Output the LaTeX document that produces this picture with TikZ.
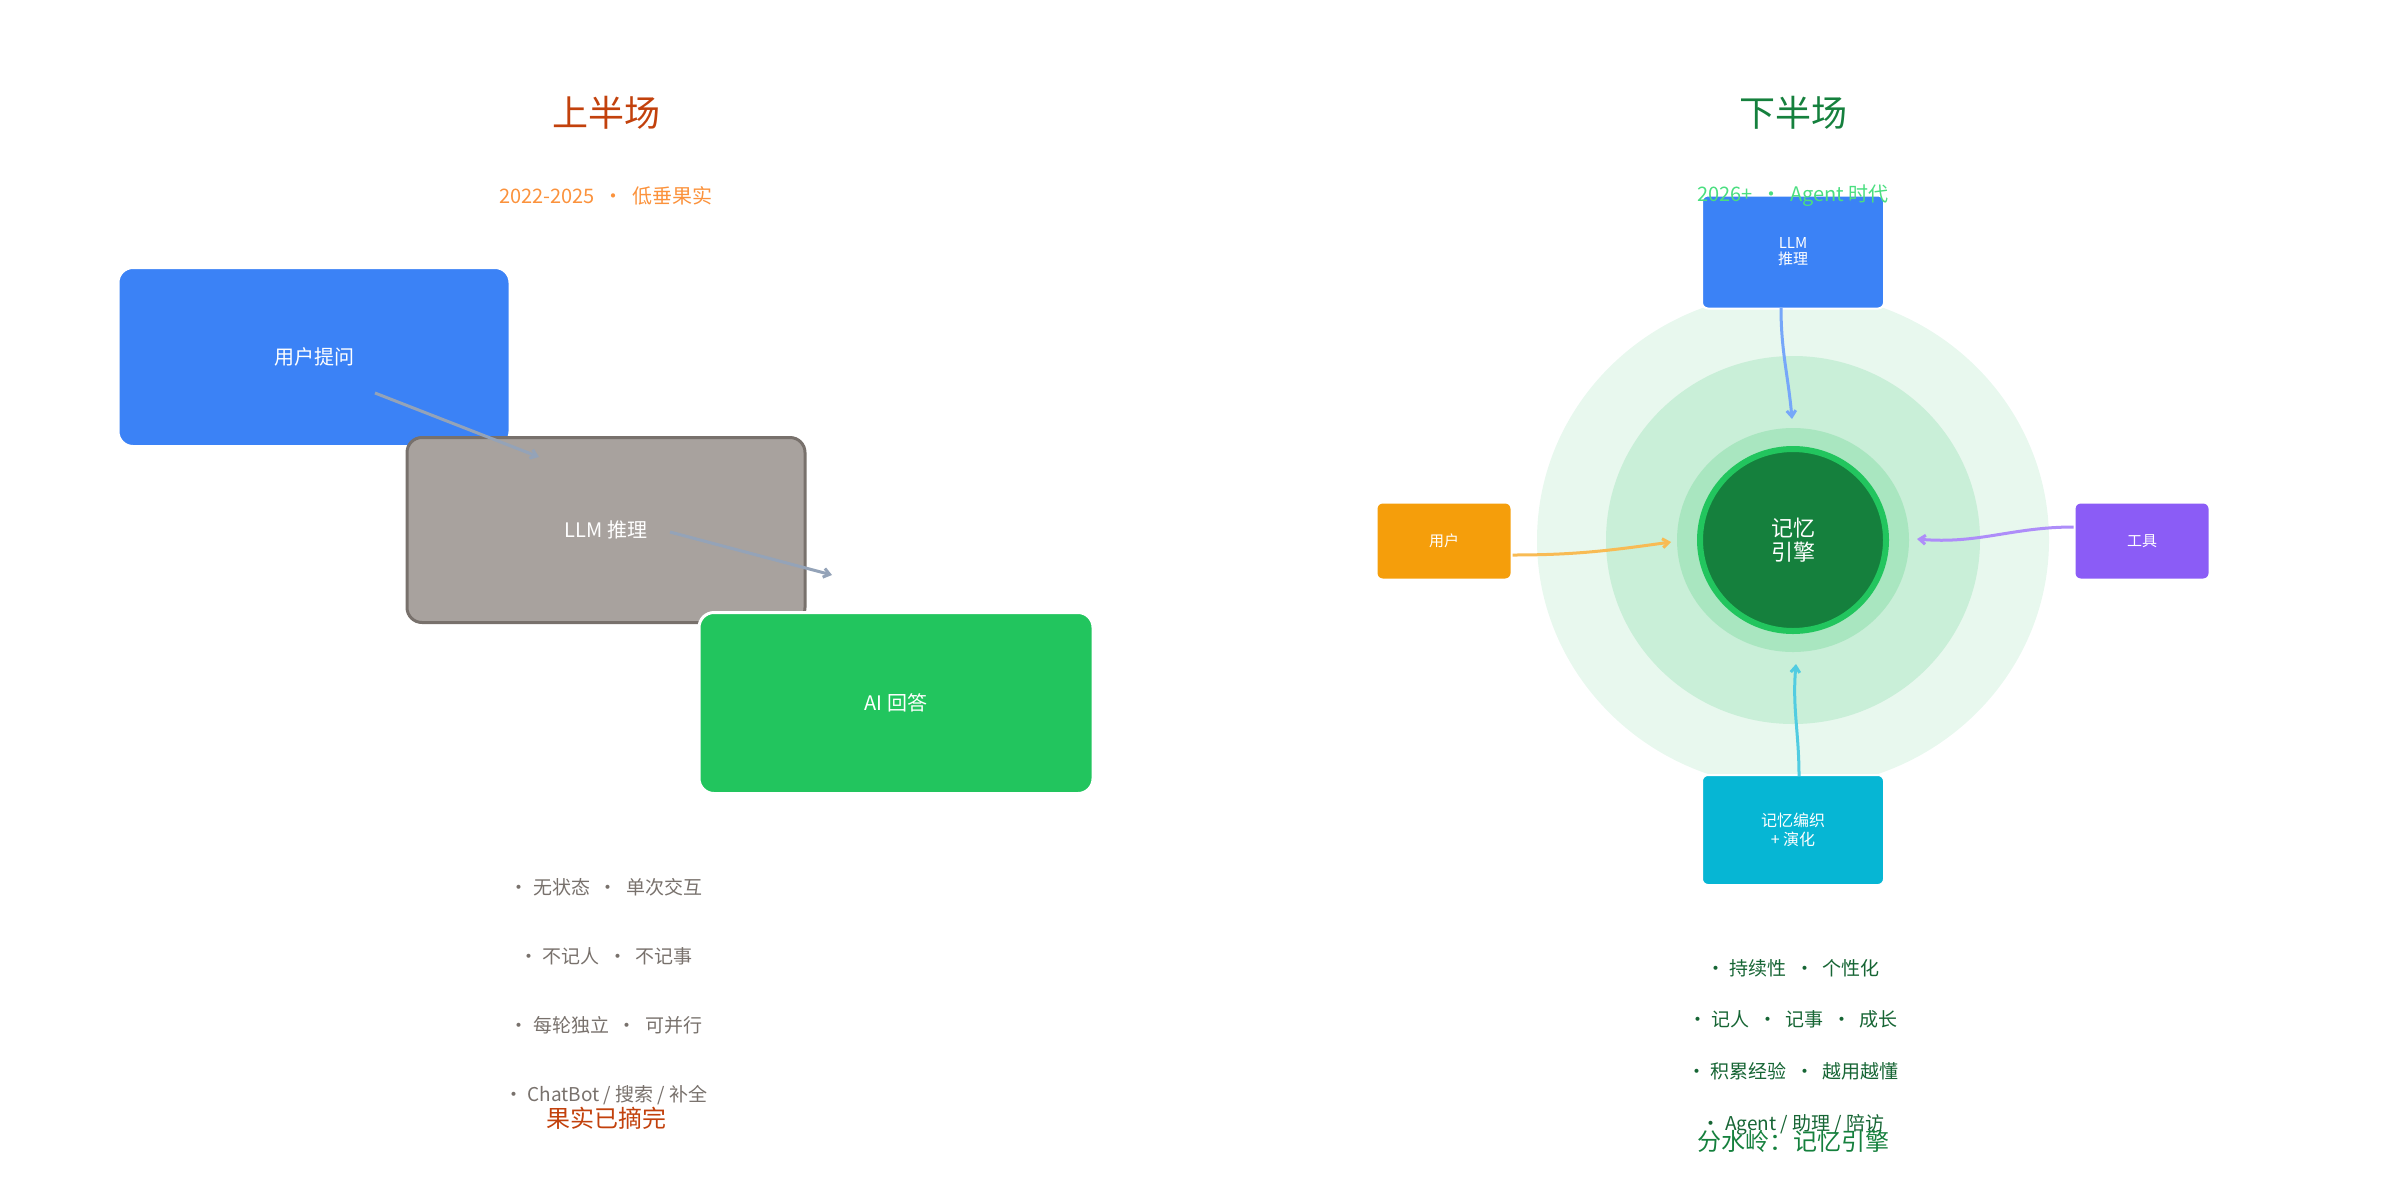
\documentclass[tikz,border=0pt]{standalone}
\usepackage{fontspec}
\setmainfont{Noto Sans CJK SC}
\usetikzlibrary{arrows.meta,shapes.geometric}
\definecolor{cblue}{HTML}{3B82F6}
\definecolor{cgray}{HTML}{A8A29E}
\definecolor{cgrayb}{HTML}{78716C}
\definecolor{cgreen}{HTML}{22C55E}
\definecolor{corange}{HTML}{F59E0B}
\definecolor{cpurple}{HTML}{8B5CF6}
\definecolor{ccyan}{HTML}{06B6D4}
\definecolor{cdark}{HTML}{15803D}
\definecolor{ring1}{HTML}{E8F8EE}
\definecolor{ring2}{HTML}{C9EFD8}
\definecolor{ring3}{HTML}{A9E6C0}
\definecolor{ltitle}{HTML}{C2410C}
\definecolor{lsub}{HTML}{FB923C}
\definecolor{rtitle}{HTML}{15803D}
\definecolor{rsub}{HTML}{4ADE80}
\definecolor{lbul}{HTML}{78716C}
\definecolor{rbul}{HTML}{166534}
\definecolor{arr}{HTML}{94A3B8}
\begin{document}
\begin{tikzpicture}[x=1pt,y=-1pt,
  big/.style={draw=white,line width=3pt,rounded corners=15pt,text=white,font=\fontsize{20}{24}\selectfont},
  small/.style={draw=white,line width=2pt,rounded corners=6pt,text=white,font=\fontsize{15}{17}\selectfont,align=center},
  bul/.style={font=\fontsize{19}{22}\selectfont},
  con/.style={line width=3pt,-{Straight Barb[length=6pt,width=9pt]}}]
\useasboundingbox (0,0) rectangle (2400,1200);
% left
\node[text=ltitle,font=\fontsize{36}{40}\selectfont] (lt) at (606,113) {上半场};
\node[text=lsub,font=\fontsize{20}{24}\selectfont] (ls) at (606,196) {2022-2025 \ • \ 低垂果实};
\node[big,fill=cblue,minimum width=392pt,minimum height=179pt] (u) at (314,357) {用户提问};
\node[big,fill=cgray,draw=cgrayb,minimum width=398pt,minimum height=185pt] (l) at (606,530) {LLM 推理};
\node[big,fill=cgreen,minimum width=394pt,minimum height=181pt] (a) at (896,703) {AI 回答};
\coordinate (a1s) at (375,393); \coordinate (a1e) at (539,457);
\coordinate (a2s) at (670,532); \coordinate (a2e) at (832,575);
\draw[con,color=arr] (a1s) -- (a1e);
\draw[con,color=arr] (a2s) -- (a2e);
\node[bul,text=lbul] (lb1) at (606,887) {• 无状态 \ • \ 单次交互};
\node[bul,text=lbul] (lb2) at (606,956) {• 不记人 \ • \ 不记事};
\node[bul,text=lbul] (lb3) at (606,1025) {• 每轮独立 \ • \ 可并行};
\node[bul,text=lbul] (lb4) at (606,1095) {• ChatBot / 搜索 / 补全};
\node[text=ltitle,font=\fontsize{24}{28}\selectfont] (lf) at (606,1118) {果实已摘完};
% right
\node[text=rtitle,font=\fontsize{36}{40}\selectfont] (rt) at (1793,113) {下半场};
\fill[ring1] (1793,540) ellipse [x radius=256,y radius=248];
\fill[ring2] (1793,540) ellipse [x radius=187,y radius=184];
\fill[ring3] (1793,540) ellipse [x radius=116,y radius=112];
\node[ellipse,draw=cgreen,line width=6pt,fill=cdark,minimum width=186pt,minimum height=182pt,text=white,align=center,font=\fontsize{22}{24}\selectfont,inner sep=0pt] (m) at (1793,540) {记忆\\引擎};
\node[small,fill=cblue,minimum width=182pt,minimum height=113pt,font=\fontsize{15}{16}\selectfont] (llm) at (1793,252) {LLM\\推理};
\node[small,fill=corange,minimum width=135pt,minimum height=77pt] (usr) at (1444,541) {用户};
\node[small,fill=cpurple,minimum width=135pt,minimum height=77pt] (tool) at (2142,541) {工具};
\node[small,fill=ccyan,minimum width=182pt,minimum height=110pt,font=\fontsize{16}{19}\selectfont] (mem) at (1793,830) {记忆编织\\+ 演化};
\node[text=rsub,font=\fontsize{20}{24}\selectfont] (rs) at (1793,196) {2026+ \ • \ Agent 时代};
\coordinate (e1) at (1792,419); \coordinate (e2) at (1671,542);
\coordinate (e3) at (1917,539); \coordinate (e4) at (1796,664);
\draw[con,color=cblue!70] (1781,308) to[out=-90,in=95] (e1);
\draw[con,color=corange!70] (usr.east) ++(0,14) to[out=0,in=-172] (e2);
\draw[con,color=cpurple!70] (tool.west) ++(0,-14) to[out=180,in=-5] (e3);
\draw[con,color=ccyan!70] (1799,776) to[out=90,in=-95] (e4);
\node[bul,text=rbul] (rb1) at (1793,968) {• 持续性 \ • \ 个性化};
\node[bul,text=rbul] (rb2) at (1793,1019) {• 记人 \ • \ 记事 \ • \ 成长};
\node[bul,text=rbul] (rb3) at (1793,1071) {• 积累经验 \ • \ 越用越懂};
\node[bul,text=rbul] (rb4) at (1793,1125) {• Agent / 助理 / 陪访};
\node[text=rtitle,font=\fontsize{24}{28}\selectfont] (rf) at (1793,1141) {分水岭：记忆引擎};
\end{tikzpicture}
\end{document}
